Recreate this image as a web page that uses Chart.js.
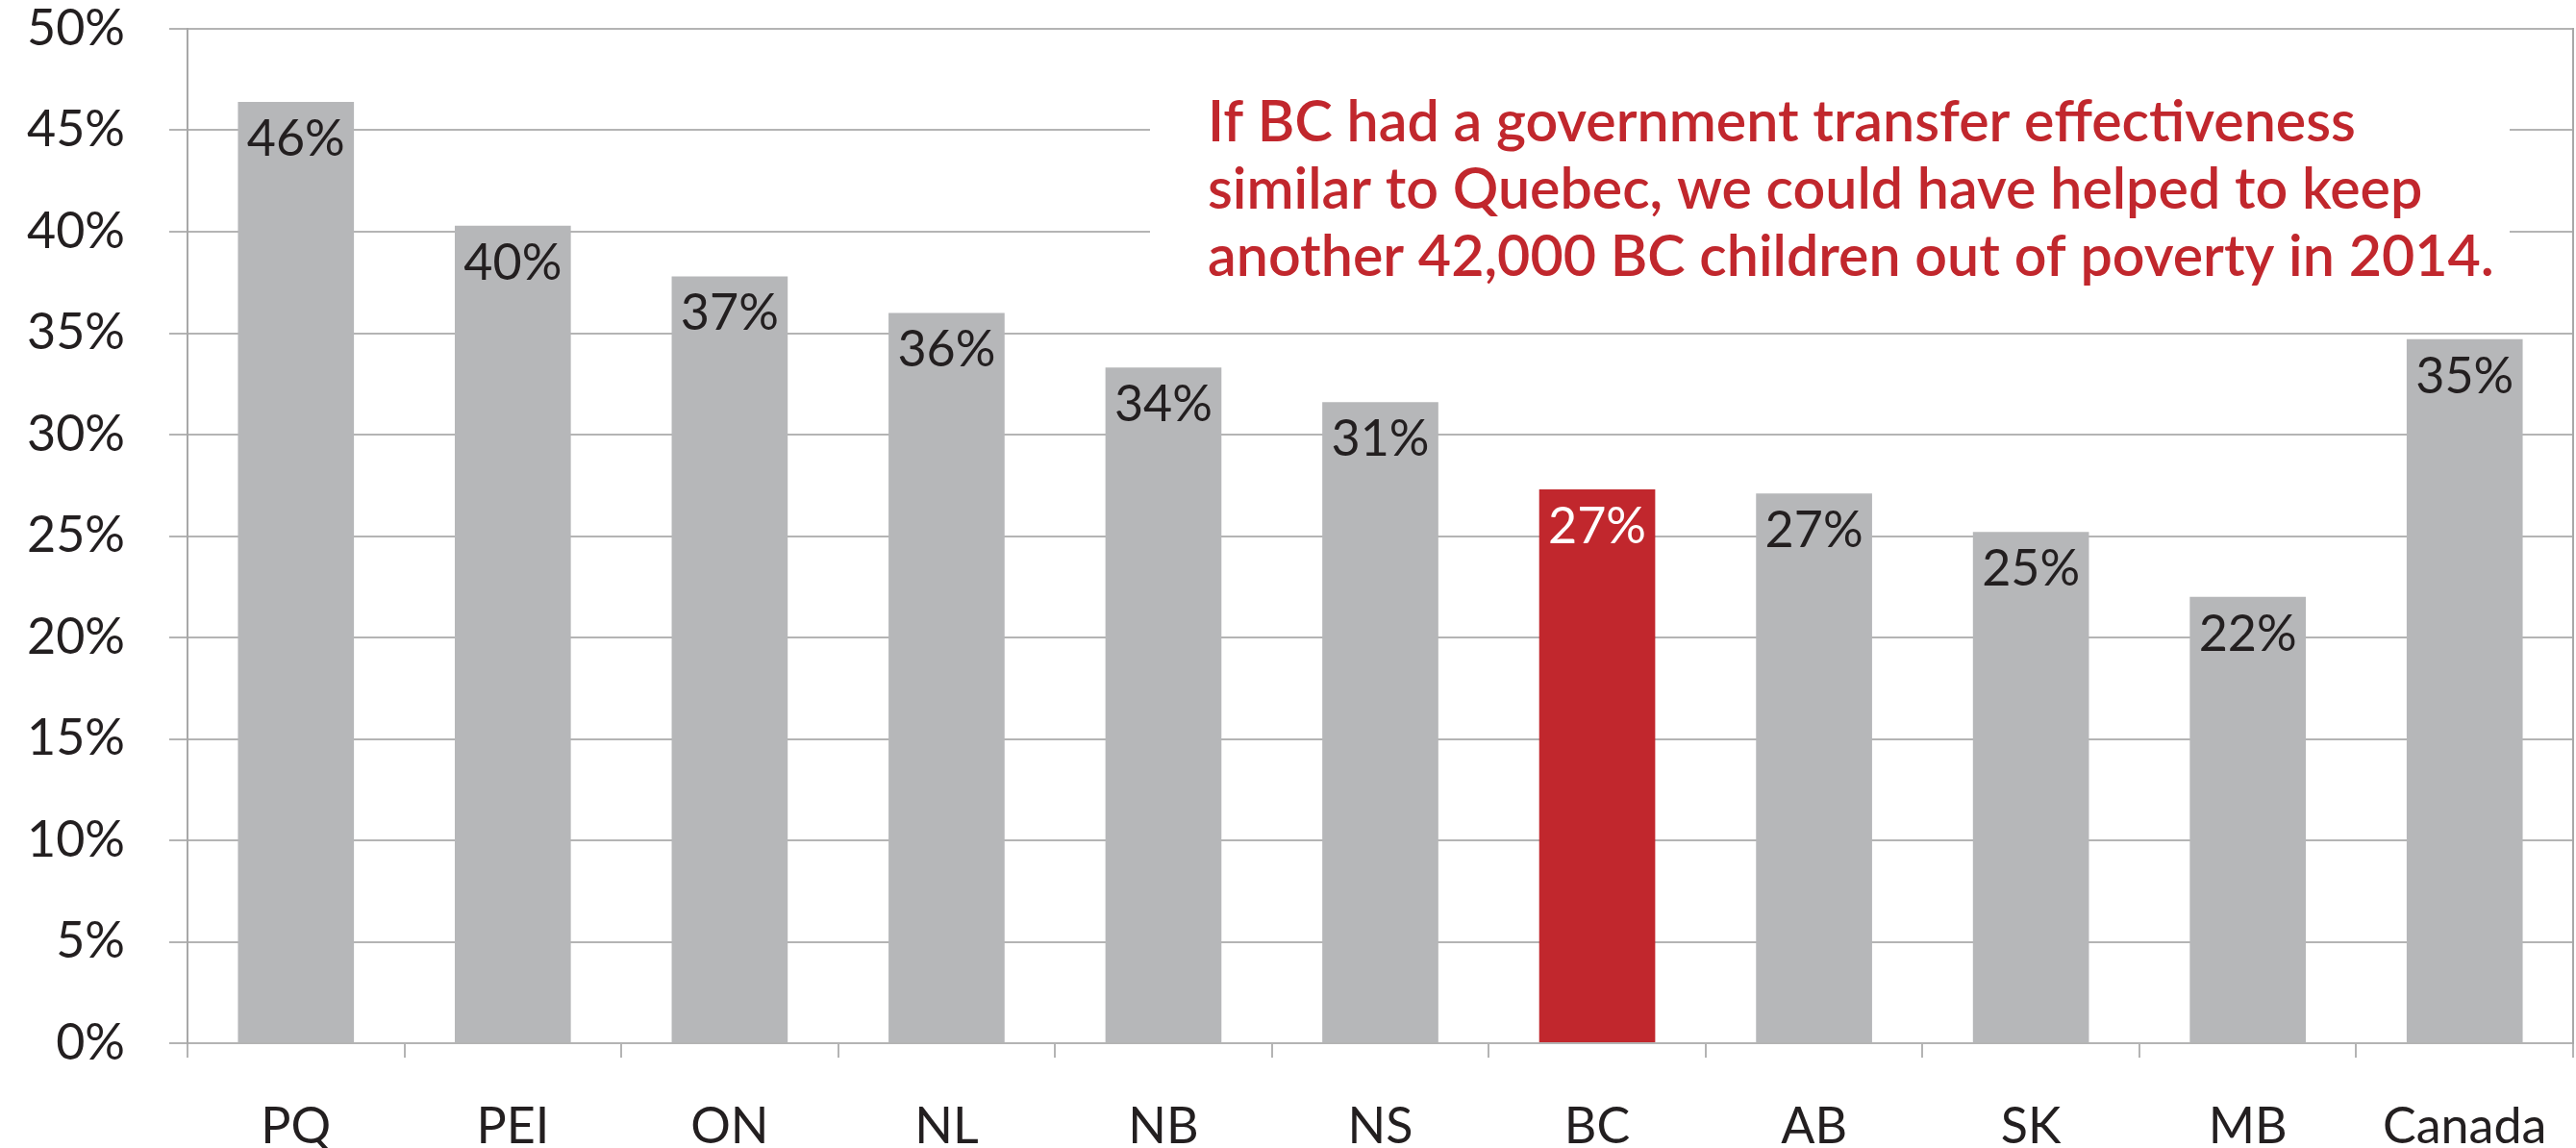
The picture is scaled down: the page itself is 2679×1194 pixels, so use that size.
<!DOCTYPE html>
<html><head><meta charset="utf-8">
<script src="https://cdn.jsdelivr.net/npm/chart.js@4/dist/chart.umd.min.js"></script>
<style>html,body{margin:0;padding:0;background:#fff;} #wrap{width:2679px;height:1194px;}</style>
</head><body><div id="wrap"><canvas id="c" width="2679" height="1194"></canvas></div>
<script>
const categories = ['PQ', 'PEI', 'ON', 'NL', 'NB', 'NS', 'BC', 'AB', 'SK', 'MB', 'Canada'];
const values = [46.4, 40.3, 37.8, 36.0, 33.3, 31.6, 27.3, 27.1, 25.2, 22.0, 34.7];
const valueLabels = ['46%', '40%', '37%', '36%', '34%', '31%', '27%', '27%', '25%', '22%', '35%'];
const highlightCategory = 'BC';
const yMin = 0;
const yMax = 50;
const yStep = 5;
const annotationLines = [
  'If BC had a government transfer effectiveness',
  'similar to Quebec, we could have helped to keep',
  'another 42,000 BC children out of poverty in 2014.'
];

const FONT = 'Lato, "Open Sans", sans-serif';
const GREY_BAR = '#b6b7b9';
const RED = '#c1272d';
const GRID = '#b4b4b4';
const TEXT = '#231f20';

const barLabelPlugin = {
  id: 'barLabels',
  afterDatasetsDraw(chart) {
    const ctx = chart.ctx;
    const meta = chart.getDatasetMeta(0);
    ctx.save();
    ctx.font = '52px ' + FONT;
    ctx.textAlign = 'center';
    ctx.textBaseline = 'alphabetic';
    meta.data.forEach((bar, i) => {
      ctx.fillStyle = categories[i] === highlightCategory ? '#ffffff' : TEXT;
      ctx.fillText(valueLabels[i], bar.x, bar.y + 56);
    });
    ctx.restore();
  }
};

const annotationPlugin = {
  id: 'annotationBox',
  beforeDatasetsDraw(chart) {
    const ctx = chart.ctx;
    ctx.save();
    ctx.fillStyle = '#ffffff';
    ctx.fillRect(1196, 62, 2610 - 1196, 248);
    ctx.fillStyle = RED;
    ctx.textAlign = 'left';
    ctx.textBaseline = 'middle';
    let size = 48;
    ctx.font = '600 ' + size + 'px ' + FONT;
    const w = ctx.measureText(annotationLines[2]).width;
    size = size * 1338 / w;
    ctx.font = '600 ' + size.toFixed(2) + 'px ' + FONT;
    const ys = [128, 198, 268];
    annotationLines.forEach((t, i) => ctx.fillText(t, 1256, ys[i]));
    ctx.restore();
  }
};

new Chart(document.getElementById('c'), {
  type: 'bar',
  data: {
    labels: categories,
    datasets: [{
      data: values,
      backgroundColor: categories.map(c => c === highlightCategory ? RED : GREY_BAR),
      borderWidth: 0,
      categoryPercentage: 1.0,
      barPercentage: 0.535
    }]
  },
  options: {
    responsive: false,
    animation: false,
    devicePixelRatio: 1,
    layout: { padding: { top: 30, right: 0, bottom: 0, left: 0 } },
    plugins: { legend: { display: false }, tooltip: { enabled: false } },
    scales: {
      x: {
        grid: { offset: true, drawOnChartArea: false, tickLength: 15, color: GRID, lineWidth: 2 },
        border: { display: true, color: GRID, width: 2 },
        ticks: { color: TEXT, font: { family: FONT, size: 52 }, padding: 41, maxRotation: 0, autoSkip: false },
        afterFit(scale) { scale.height = 109; scale.paddingLeft = 0; scale.paddingRight = 0; }
      },
      y: {
        min: yMin, max: yMax,
        ticks: { stepSize: yStep, color: TEXT, font: { family: FONT, size: 52 }, padding: 46,
                 callback: v => v + '%' },
        grid: { color: GRID, lineWidth: 2, tickLength: 19 },
        border: { display: true, color: '#a8a8a8', width: 2 },
        afterFit(scale) { scale.width = 195; scale.paddingTop = 0; scale.paddingBottom = 0; }
      },
      y2: {
        position: 'right', min: yMin, max: yMax, display: true,
        ticks: { display: false },
        grid: { drawOnChartArea: false, drawTicks: false },
        border: { display: true, color: '#a8a8a8', width: 2 },
        afterFit(scale) { scale.width = 3; scale.paddingTop = 0; scale.paddingBottom = 0; }
      }
    }
  },
  plugins: [annotationPlugin, barLabelPlugin]
});
</script>
</body></html>
